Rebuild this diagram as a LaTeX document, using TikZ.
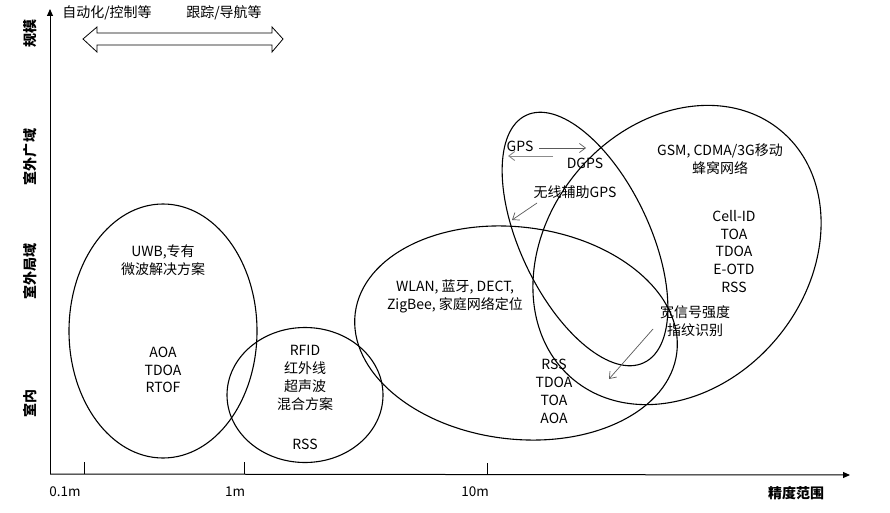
\documentclass[tikz,border=0pt]{standalone}
\usepackage{fontspec}
\setmainfont{Noto Sans CJK SC}
\usetikzlibrary{arrows.meta,shapes.geometric}
\begin{document}
\begin{tikzpicture}[x=1pt,y=-1pt,
  region/.style={draw=black,line width=1.1pt,ellipse,inner sep=0pt},
  label/.style={font=\fontsize{14}{17.8}\selectfont,align=center,inner sep=0pt},
  axislabel/.style={font=\fontsize{14}{16}\bfseries,rotate=90,inner sep=0pt},
  ticklabel/.style={font=\fontsize{13.5}{15}\selectfont,inner sep=0pt},
  axisline/.style={line width=1pt,-{Triangle[length=7pt,width=6pt]}},
  tickline/.style={line width=0.8pt},
  pointer/.style={draw=black!65,line width=0.7pt,-{Straight Barb[length=6pt,width=9pt]}},
  pointerlight/.style={draw=black!45,line width=0.9pt,-{Straight Barb[length=6pt,width=9pt]}}]
\useasboundingbox (0,0) rectangle (890,513);

% axes
\coordinate (O) at (50,474);
\coordinate (ytop) at (50,9);
\coordinate (xend) at (850,475);
\draw[axisline] (O) -- (ytop);
\draw[axisline] (O) -- (xend);

% ticks on the accuracy axis
\coordinate (t1a) at (84,474);  \coordinate (t1b) at (84,462);
\coordinate (t2a) at (244,474); \coordinate (t2b) at (244,462);
\coordinate (t3a) at (487,474); \coordinate (t3b) at (487,463);
\draw[tickline] (t1a) -- (t1b);
\draw[tickline] (t2a) -- (t2b);
\draw[tickline] (t3a) -- (t3b);
\node[ticklabel] (l01) at (65,492) {0.1m};
\node[ticklabel] (l1) at (235,492) {1m};
\node[ticklabel] (l10) at (475,492) {10m};
\node[font=\fontsize{14}{16}\bfseries,inner sep=0pt] (xlab) at (796,493) {精度范围};

% scale axis labels
\node[axislabel] (ys) at (30,34) {规模};
\node[axislabel] (yw) at (30,157) {室外广域};
\node[axislabel] (yl) at (30,271) {室外局域};
\node[axislabel] (yi) at (30,403) {室内};

% application range
\node[label] (app1) at (107,13) {自动化/控制等};
\node[label] (app2) at (224,13) {跟踪/导航等};
\draw[line width=0.8pt,fill=white] (83,39) -- (97,27) -- (97,33) -- (272,33) -- (272,27)
  -- (283,39) -- (272,52) -- (272,45) -- (97,45) -- (97,52) -- cycle;

% technology regions
\node[region,minimum width=188pt,minimum height=254pt] (uwb) at (163,331) {};
\node[region,minimum width=156pt,minimum height=135pt] (rfid) at (305,395) {};
\node[region,minimum width=324pt,minimum height=212pt,rotate=-7] (wlan) at (516,333) {};
\node[region,minimum width=129pt,minimum height=274pt,rotate=25.5] (gps) at (585,239) {};
\node[region,minimum width=324pt,minimum height=260pt,rotate=50] (gsm) at (677,255) {};

% texts inside the regions
\node[label] (uwbt) at (163,260) {UWB,专有\\微波解决方案};
\node[label] (uwbm) at (163,370) {AOA\\TDOA\\RTOF};
\node[label] (rfidt) at (305,378) {RFID\\红外线\\超声波\\混合方案};
\node[label] (rfidm) at (305,444) {RSS};
\node[label] (wlant) at (455,296.5) {WLAN, 蓝牙, DECT,\\ZigBee, 家庭网络定位};
\node[label] (wlanm) at (554,391.5) {RSS\\TDOA\\TOA\\AOA};
\node[label] (gpst) at (520,146) {GPS};
\node[label] (dgps) at (585,163) {DGPS};
\node[label] (agps) at (575,192) {无线辅助GPS};
\node[label] (gsmt) at (720,159) {GSM, CDMA/3G移动\\蜂窝网络};
\node[label] (gsmm) at (734,251.5) {Cell-ID\\TOA\\TDOA\\E-OTD\\RSS};
\node[label] (fp) at (695,321.5) {宽信号强度\\指纹识别};

% pointers
\coordinate (g1) at (539,148); \coordinate (g2) at (586,148);
\coordinate (g3) at (553,156); \coordinate (g4) at (508,156);
\coordinate (a1) at (537,203); \coordinate (a2) at (512,220);
\coordinate (f1) at (653,329); \coordinate (f2) at (609,379);
\draw[pointer] (g1) -- (g2);
\draw[pointerlight] (g3) -- (g4);
\draw[pointer] (a1) -- (a2);
\draw[pointer] (f1) -- (f2);
\end{tikzpicture}
\end{document}
